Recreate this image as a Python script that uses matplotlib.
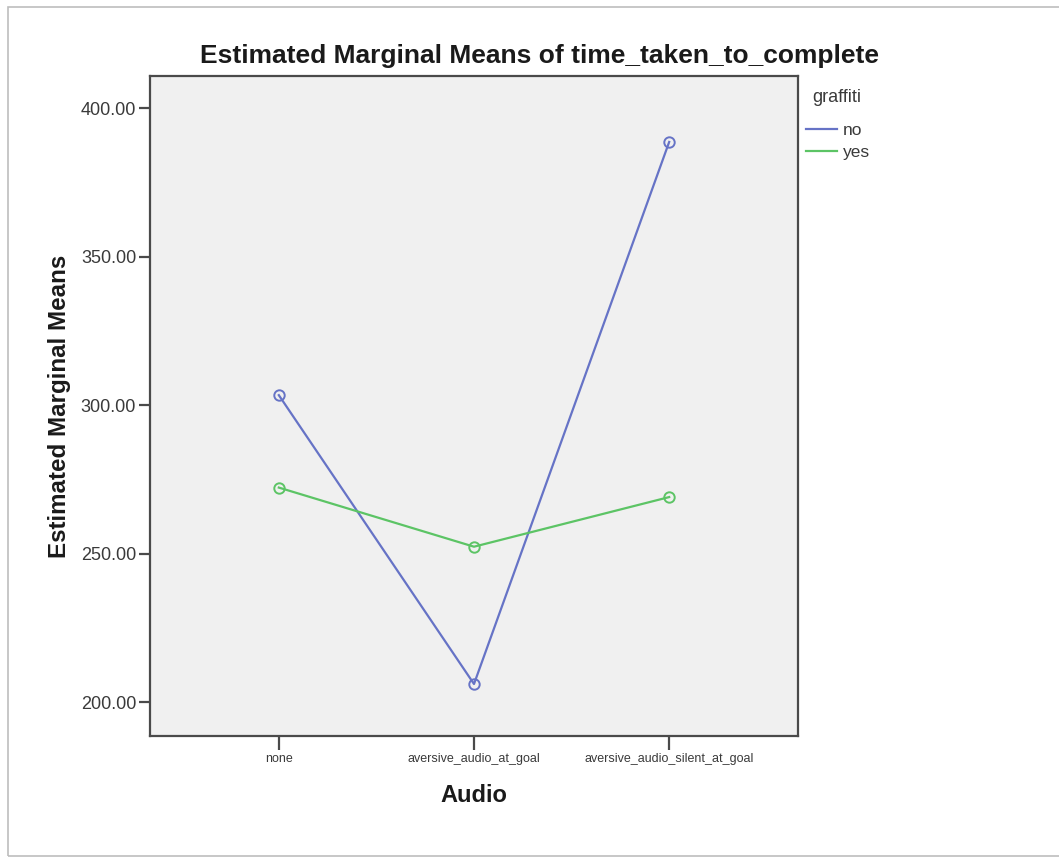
import matplotlib
matplotlib.use("Agg")
import matplotlib.pyplot as plt
from matplotlib.patches import Rectangle

# Estimated marginal means of time_taken_to_complete by Audio condition and graffiti
audio_levels = ["none", "aversive_audio_at_goal", "aversive_audio_silent_at_goal"]
means_no = [303.4, 206.2, 388.6]
means_yes = [272.3, 252.4, 269.1]
series_names = ["no", "yes"]
legend_title = "graffiti"
y_ticks = [200, 250, 300, 350, 400]

plt.rcParams["font.family"] = ["Liberation Sans", "DejaVu Sans"]

W, H = 1059, 857
fig = plt.figure(figsize=(W / 100, H / 100), dpi=100)
fig.patch.set_facecolor("white")

# outer frame of the chart viewer
fig.add_artist(Rectangle((8 / W, 1 - 856 / H), (W + 10 - 8) / W, (856 - 7) / H,
                         transform=fig.transFigure, fill=False,
                         edgecolor="#bdbdbd", linewidth=1.2))

ax = fig.add_axes([150 / W, 1 - 736 / H, 648 / W, 660 / H])
ax.set_facecolor("#f0f0f0")

x = list(range(len(audio_levels)))
blue = "#6673c6"
green = "#5cc465"
ax.plot(x, means_no, color=blue, lw=1.6, marker="o", ms=7.5, mfc="none",
        mec=blue, mew=1.4, label=series_names[0])
ax.plot(x, means_yes, color=green, lw=1.6, marker="o", ms=7.5, mfc="none",
        mec=green, mew=1.4, label=series_names[1])

ax.set_xlim(-0.66, 2.66)
ax.set_ylim(188.7, 410.8)
ax.set_yticks(y_ticks)
ax.set_yticklabels([f"{v:.2f}" for v in y_ticks])
ax.set_xticks(x)
ax.set_xticklabels(audio_levels)

for sp in ax.spines.values():
    sp.set_color("#4a4a4a")
    sp.set_linewidth(1.6)

ax.tick_params(axis="y", length=8, width=1.6, color="#4a4a4a",
               labelsize=13, labelcolor="#3a3a3a", pad=2)
ax.tick_params(axis="x", length=10, width=1.6, color="#4a4a4a",
               labelsize=9, labelcolor="#3a3a3a", pad=2)

ax.set_ylabel("Estimated Marginal Means", fontsize=17.4, fontweight="bold",
              color="#1a1a1a", labelpad=7)
ax.set_xlabel("Audio", fontsize=17, fontweight="bold", color="#1a1a1a",
              labelpad=14)

fig.text(540 / W, 1 - 56 / H, "Estimated Marginal Means of time_taken_to_complete",
         ha="center", va="center", fontsize=19, fontweight="bold", color="#1a1a1a")

# legend: title text plus one short line per series
fig.text(812 / W, 1 - 97 / H, legend_title, ha="left", va="center",
         fontsize=13, color="#3a3a3a")
leg = ax.legend(loc="upper left", bbox_to_anchor=(806 / W, 1 - 123 / H),
                bbox_transform=fig.transFigure, frameon=False,
                fontsize=12.5, handlelength=1.8, handletextpad=0.3,
                labelspacing=0.4, borderpad=0, borderaxespad=0)
for t in leg.get_texts():
    t.set_color("#3a3a3a")
for h in leg.legend_handles:
    h.set_marker("")

fig.savefig("out.png", dpi=100, facecolor="white")
